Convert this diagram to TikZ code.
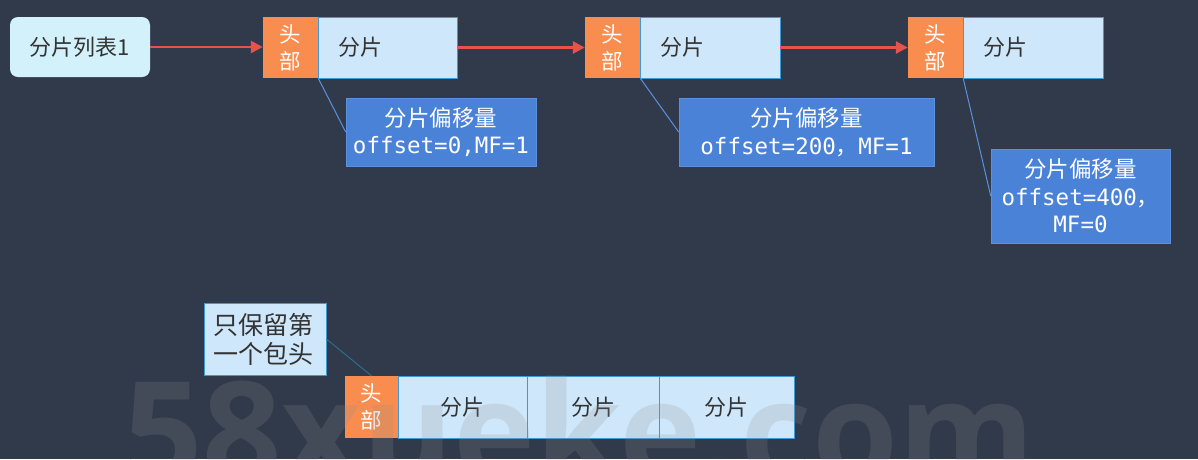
\documentclass[tikz,border=0pt]{standalone}
\usepackage{fontspec}
\setmainfont{Noto Sans CJK SC}
\newfontfamily\cjk{Noto Sans CJK SC}
\newfontfamily\mono{DejaVu Sans Mono}
\newfontfamily\wmfont{Open Sans}
\usetikzlibrary{arrows.meta}
\definecolor{bg}{HTML}{313A4A}
\definecolor{listc}{HTML}{D3F1FA}
\definecolor{hdrc}{HTML}{F98C4F}
\definecolor{segc}{HTML}{CFE7FB}
\definecolor{segb}{HTML}{3F9AD4}
\definecolor{offc}{HTML}{4A82D8}
\definecolor{offb}{HTML}{5A90DE}
\definecolor{linkc}{HTML}{E5534C}
\definecolor{txtd}{HTML}{333333}
\definecolor{notel}{HTML}{2E6C8C}
\definecolor{wmc}{HTML}{919191}
\tikzset{
  listbox/.style={fill=listc, rounded corners=8pt, text=txtd, inner sep=0pt,
    font=\fontsize{22}{26}\selectfont},
  hdr/.style={fill=hdrc, text=white, align=center, inner sep=0pt,
    minimum width=55pt, minimum height=61pt, font=\fontsize{21.5}{27}\selectfont},
  seg/.style={fill=segc, draw=segb, line width=0.8pt, text=txtd, inner sep=0pt,
    minimum height=61pt, font=\fontsize{22}{26}\selectfont},
  segl/.style={seg, align=left, inner xsep=20pt},
  offbox/.style={fill=offc, draw=offb, line width=0.6pt, text=white, align=center,
    inner sep=0pt, font=\fontsize{22.5}{27.5}\selectfont},
  notebox/.style={fill=segc, draw=segb, line width=0.8pt, text=txtd, align=left,
    inner xsep=9pt, inner ysep=0pt, font=\fontsize{25}{29}\selectfont},
  link/.style={draw=linkc, line width=2.6pt, -{Triangle[length=12pt,width=12pt]}},
  pointer/.style={draw=offb, line width=1pt},
  notepointer/.style={draw=notel, line width=1pt}
}
\begin{document}
\begin{tikzpicture}[x=1pt,y=-1pt]
\fill[bg] (0,0) rectangle (1198,459);
\useasboundingbox (0,0) rectangle (1198,459);
\clip (0,0) rectangle (1198,459);

% top row
\node[listbox, minimum width=140pt, minimum height=60pt] (list) at (80,47) {分片列表1};

\node[hdr] (h1) at (290.5,47.5) {头\\部};
\node[segl, minimum width=139pt, text width=99pt] (s1) at (387.5,47.5) {分片};

\node[hdr] (h2) at (612.5,47.5) {头\\部};
\node[segl, minimum width=140pt, text width=100pt] (s2) at (710,47.5) {分片};

\node[hdr] (h3) at (935.5,47.5) {头\\部};
\node[segl, minimum width=140pt, text width=100pt] (s3) at (1033,47.5) {分片};

\draw[link] (list.east) -- (list.east -| h1.west);
\draw[link] (s1.east) -- (h2.west);
\draw[link] (s2.east) -- (h3.west);

% offset boxes
\node[offbox, minimum width=190pt, minimum height=68pt] (o1) at (441,132)
  {分片偏移量\\{\mono offset=0,MF=1}};
\node[offbox, minimum width=255pt, minimum height=68pt] (o2) at (806.5,132)
  {分片偏移量\\{\mono offset=200}{\cjk ，}{\mono MF=1}};
\node[offbox, minimum width=179pt, minimum height=94pt] (o3) at (1080.5,196)
  {分片偏移量\\{\mono offset=400}{\cjk ，}\\{\mono MF=0}};

\draw[pointer] (h1.south east) -- (o1.west);
\draw[pointer] (h2.south east) -- (o2.west);
\draw[pointer] (h3.south east) -- (o3.west);

% bottom row
\node[notebox, minimum width=122pt, minimum height=72pt, text width=104pt] (note) at (265,339)
  {只保留第\\一个包头};
\node[hdr, minimum width=53pt, minimum height=62pt] (h4) at (371.5,407) {头\\部};
\node[seg, minimum width=129pt, minimum height=62pt] (b1) at (462.5,407) {分片};
\node[seg, minimum width=132pt, minimum height=62pt] (b2) at (593,407) {分片};
\node[seg, minimum width=135pt, minimum height=62pt] (b3) at (726.5,407) {分片};
\draw[notepointer] (note.east) -- (h4.north);

% watermark
\node[anchor=base west, inner sep=0pt, text=wmc, opacity=0.2,
  font=\wmfont\bfseries\fontsize{139}{139}\selectfont] (wm) at (123,481) {58xueke.com};
\end{tikzpicture}
\end{document}
